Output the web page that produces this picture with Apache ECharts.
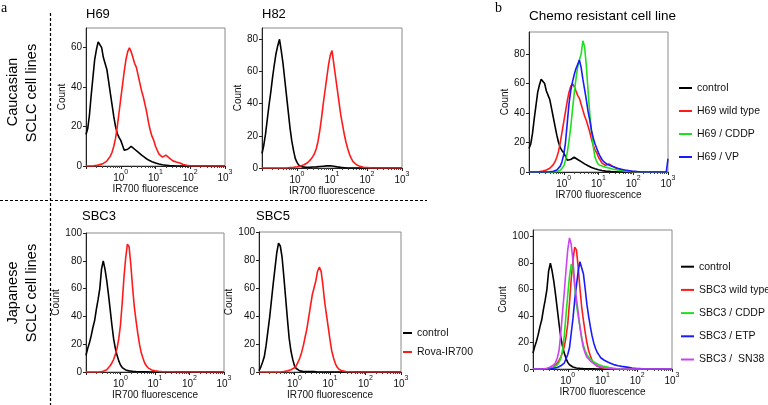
<!DOCTYPE html>
<html>
<head>
<meta charset="utf-8">
<script src="https://cdn.jsdelivr.net/npm/echarts@6/dist/echarts.min.js"></script>
<style>
  html, body { margin: 0; padding: 0; background: #fff; }
  #chart { width: 768px; height: 405px; }
</style>
</head>
<body>
<div id="chart"></div>
<script>
// ---- Data (x grid: log10 fluorescence channel, -1.00 .. 3.00 in 0.05 steps) ----
const LOG_MIN = -1, LOG_STEP = 0.05, N_BINS = 81;
const LOGX = Array.from({ length: N_BINS }, (_, i) => +(LOG_MIN + i * LOG_STEP).toFixed(2));
const X_TICK_EXPONENTS = [0, 1, 2, 3];

// H69 (panel a) – also reused in panel b (control / H69 wild type)
const H69_control = [
  16,19,26,36,45,54,59,63,64,60,55,52,49,43,37,31,25,20,16.5,14.5,
  13,10.5,8,7.5,8.5,9.5,10,9.5,8.5,7.5,7,6,5.5,4.8,4.2,3.6,3,2.6,2.2,1.8,
  1.5,1.2,1,0.8,0.6,0.5,0.4,0.3,0.2,0.2,0.1,0,0,0,0,0,0,0,0,0,
  0,0,0,0,0,0,0,0,0,0,0,0,0,0,0,0,0,0,0,0,
  0];
const H69_rova = [
  0,0,0,0,0,0.2,0.3,0.5,0.7,1,1.3,1.8,2.5,3.5,5,7,10,14,20,27,
  34,41,48,54,58,60,58,55,52,50,46,42,38,35,31,27,22,18,15,13,
  10,8,6,5,4.5,5,5.5,5,4,3.2,2.6,2.2,2,1.8,1.5,1.2,0.8,0.6,0.4,0.2,
  0.1,0,0,0,0,0,0,0,0,0,0,0,0,0,0,0,0,0,0,0,
  0];
// H82
const H82_control = [
  9,14,21,30,39,47,56,64,71,76,80,73,65,55,45,35,25,17,11,6,
  3.5,1.8,1,0.7,0.5,0.5,0.5,0.4,0.5,0.6,0.6,0.7,0.8,0.9,1,1.1,1.2,1.3,1.3,1.4,
  1.3,1.1,0.9,0.7,0.5,0.4,0.3,0.2,0.1,0,0,0,0,0,0,0,0,0,0,0,
  0,0,0,0,0,0,0,0,0,0,0,0,0,0,0,0,0,0,0,0,
  0];
const H82_rova = [
  0,0,0,0,0,0,0,0,0,0,0,0,0,0,0,0.2,0.3,0.4,0.5,0.6,
  0.8,1,1.3,1.6,2,2.6,3.3,4.3,5.5,7,9,12,16.5,23,31,40,48,56,64,70,
  73,65,57,49,41,33,27,21,16,12,8.5,6,4,2.8,2,1.4,1,0.7,0.5,0.4,
  0.3,0.2,0.1,0,0,0,0,0,0,0,0,0,0,0,0,0,0,0,0,0,
  0];
// SBC3 (panel a) – also reused in panel b (control / SBC3 wild type)
const SBC3_control = [
  12,17,21,26,32,37,45,52,60,74,80,74,66,56,45,34,24,17,12,8,
  5,3.2,2.2,1.5,1.1,0.8,0.6,0.5,0.4,0.3,0.3,0.2,0.2,0.2,0.2,0.2,0.2,0,0,0,
  0,0,0,0,0,0,0,0,0,0,0,0,0,0,0,0,0,0,0,0,
  0,0,0,0,0,0,0,0,0,0,0,0,0,0,0,0,0,0,0,0,
  0];
const SBC3_rova = [
  0,0,0,0,0,0,0,0,0,0.3,0.6,1,1.6,2.8,4.5,6.5,9,12.5,17,24,
  34,50,68,82,92,90,77,61,47,37,28,20,14,10,6.5,4.5,3,2,1.5,1.1,
  0.8,0.6,0.5,0.4,0.3,0.2,0.2,0.2,0.2,0.2,0.2,0,0,0,0,0,0,0,0,0,
  0,0,0,0,0,0,0,0,0,0,0,0,0,0,0,0,0,0,0,0,
  0];
// SBC5
const SBC5_control = [
  1,3.5,7,11,19,29,39,51,63,74,85,92,90,82,68,53,38,24,15,9,
  4.5,2.5,1.3,0.8,0.5,0.3,0.3,0.3,0.3,0.3,0.3,0.3,0.3,0,0,0,0,0,0,0,
  0,0,0,0,0,0,0,0,0,0,0,0,0,0,0,0,0,0,0,0,
  0,0,0,0,0,0,0,0,0,0,0,0,0,0,0,0,0,0,0,0,
  0];
const SBC5_rova = [
  0,0,0,0,0,0,0,0,0,0,0,0,0,0,0.3,0.5,0.8,1.2,1.6,2.2,
  3,4.5,7,10,14,19,25,31,39,47,55,60,65,72,75,72,62,50,41,32,
  23,15,10,6,3.5,2,1.2,0.8,0.5,0.3,0.2,0.2,0,0,0,0,0,0,0,0,
  0,0,0,0,0,0,0,0,0,0,0,0,0,0,0,0,0,0,0,0,
  0];
// Panel b – H69 chemo resistant lines
const H69_CDDP = [
  0,0,0,0,0,0,0,0,0,0,0,0,0,0,0,0.2,0.4,0.7,1.2,2,
  4,8,13,21,30,42,53,63,71,76,80,89,85,72,55,39,27,17,10,7,
  5,4.5,4,3.6,3.3,3,2.7,2.3,2,1.8,1.6,1.4,1.2,1,0.9,0.7,0.6,0.5,0.4,0.3,
  0.2,0.1,0,0,0,0,0,0,0,0,0,0,0,0,0,0,0,0,0,0,
  0];
const H69_VP = [
  0,0,0,0,0,0,0,0,0,0,0,0,0.2,0.3,0.5,0.8,1.3,2.2,4,7,
  12,20,33,46,55,61,66,70,73,76,71,63,56,49,41,35,28,23,19,16,
  13,10.5,8.5,7,6,5.2,4.6,4.2,3.8,3.4,3,2.6,2.2,1.9,1.6,1.4,1.2,1,0.8,0.6,
  0.5,0.4,0.3,0.2,0.1,0,0,0,0,0,0,0,0,0,0,0,0,0,0,0,
  9];
// Panel b – SBC3 chemo resistant lines
const SBC3_CDDP = [
  0,0,0,0,0,0,0,0,0,0.2,0.4,0.7,1.2,2,3.2,5,8,14,25,41,
  56,70,79,77,62,49,40,32,24,18,14,11,9,7.5,6.3,5.3,4.5,3.8,3.2,2.7,
  2.3,2,1.7,1.4,1.1,0.9,0.7,0.5,0.4,0.3,0.2,0.1,0,0,0,0,0,0,0,0,
  0,0,0,0,0,0,0,0,0,0,0,0,0,0,0,0,0,0,0,0,
  0];
const SBC3_ETP = [
  0,0,0,0,0,0,0,0,0,0,0,0.3,0.5,0.8,1.2,1.7,2.4,3.3,4.5,6,
  11,16,27,38,52,63,74,81,80,72,61,49,40,32,25,19.5,15.5,12.5,10.5,8.5,
  7.5,6.6,6,5.3,4.7,4.1,3.6,3.1,2.8,2.5,2.2,2,1.8,1.6,1.4,1.2,1,0.8,0.6,0.5,
  0.4,0.3,0.2,0.1,0,0,0,0,0,0,0,0,0,0,0,0,0,0,0,0,
  0];
const SBC3_SN38 = [
  0,0,0,0,0,0,0,0.3,0.6,1,1.5,2.2,3.2,5,8.5,14,27,43,58,75,
  90,99,94,82,65,53,43,32,23,16,12,9,7.5,6,5,4,3.2,2.5,2,1.6,
  1.3,1,0.8,0.6,0.4,0.3,0.2,0.1,0,0,0,0,0,0,0,0,0,0,0,0,
  0,0,0,0,0,0,0,0,0,0,0,0,0,0,0,0,0,0,0,0,
  0];

// ---- Colours / ticks ----
const C_BLACK = '#000000', C_RED = '#ff1a1a', C_GREEN = '#1ee01e', C_BLUE = '#1a1aff', C_MAG = '#cc44ee';
const Y_TICKS_A = [0, 20, 40, 60];
const Y_TICKS_B = [0, 20, 40, 60, 80];
const Y_TICKS_C = [0, 20, 40, 60, 80, 100];

const FONT = '"Liberation Sans", Arial, Helvetica, sans-serif';
const SERIF = '"Liberation Serif", "Times New Roman", serif';

const panels = [
  { left: 86,  top: 28,  width: 139, height: 138, ymax: 70,  yticks: Y_TICKS_A,
    lines: [['control', H69_control, C_BLACK], ['Rova-IR700', H69_rova, C_RED]] },
  { left: 262, top: 28,  width: 140, height: 140, ymax: 87,  yticks: Y_TICKS_B,
    lines: [['control', H82_control, C_BLACK], ['Rova-IR700', H82_rova, C_RED]] },
  { left: 86,  top: 233, width: 138, height: 139, ymax: 100, yticks: Y_TICKS_C,
    lines: [['control', SBC3_control, C_BLACK], ['Rova-IR700', SBC3_rova, C_RED]] },
  { left: 259, top: 232, width: 142, height: 140, ymax: 100, yticks: Y_TICKS_C,
    lines: [['control', SBC5_control, C_BLACK], ['Rova-IR700', SBC5_rova, C_RED]] },
  { left: 529, top: 32,  width: 139, height: 140, ymax: 95,  yticks: Y_TICKS_B,
    lines: [['control', H69_control, C_BLACK], ['H69 wild type', H69_rova, C_RED],
            ['H69 / CDDP', H69_CDDP, C_GREEN], ['H69 / VP', H69_VP, C_BLUE]] },
  { left: 533, top: 230, width: 139, height: 139, ymax: 105, yticks: Y_TICKS_C,
    lines: [['control', SBC3_control, C_BLACK], ['SBC3 wild type', SBC3_rova, C_RED],
            ['SBC3 / CDDP', SBC3_CDDP, C_GREEN], ['SBC3 / ETP', SBC3_ETP, C_BLUE],
            ['SBC3 /  SN38', SBC3_SN38, C_MAG]] }
];

// log minor tick positions (2..9 x 10^n)
const MINOR = [];
for (let n = -1; n < 3; n++) for (let k = 2; k <= 9; k++) MINOR.push(n + Math.log10(k));

const grid = [], xAxis = [], yAxis = [], series = [];
panels.forEach((p, i) => {
  grid.push({ left: p.left, top: p.top, width: p.width, height: p.height,
    show: true, borderColor: '#8a8a8a', borderWidth: 1, backgroundColor: 'transparent', containLabel: false });
  xAxis.push({
    gridIndex: i, type: 'value', min: -1, max: 3, interval: 1, position: 'bottom',
    name: 'IR700 fluorescence', nameLocation: 'middle', nameGap: 18,
    nameTextStyle: { fontSize: 10, color: '#111', fontFamily: FONT },
    axisLine: { show: true, onZero: false, lineStyle: { color: '#222', width: 1 } },
    axisTick: { show: true, length: 3, lineStyle: { color: '#222' } },
    splitLine: { show: false },
    axisLabel: {
      margin: 3, color: '#111', fontFamily: FONT,
      formatter: v => X_TICK_EXPONENTS.indexOf(v) >= 0 ? '{b|10}{s|' + v + '}' : '',
      rich: {
        b: { fontSize: 10, lineHeight: 14, verticalAlign: 'bottom', fontFamily: FONT, color: '#111' },
        s: { fontSize: 7, lineHeight: 8, verticalAlign: 'top', fontFamily: FONT, color: '#111' }
      }
    }
  });
  xAxis.push({
    gridIndex: i, type: 'value', min: -1, max: 3, position: 'bottom',
    axisLine: { show: false }, splitLine: { show: false }, axisLabel: { show: false },
    axisTick: { show: true, length: 2, customValues: MINOR, lineStyle: { color: '#444' } }
  });
  yAxis.push({
    gridIndex: i, type: 'value', min: 0, max: p.ymax,
    name: 'Count', nameLocation: 'middle', nameGap: 18,
    nameTextStyle: { fontSize: 10, color: '#111', fontFamily: FONT },
    axisLine: { show: true, onZero: false, lineStyle: { color: '#222', width: 1 } },
    axisTick: { show: true, length: 3, customValues: p.yticks, lineStyle: { color: '#222' } },
    axisLabel: { fontSize: 10, color: '#111', margin: 4, fontFamily: FONT, customValues: p.yticks },
    splitLine: { show: false }
  });
  p.lines.forEach(([name, arr, color]) => {
    series.push({
      type: 'line', name, xAxisIndex: 2 * i, yAxisIndex: i,
      data: LOGX.map((x, k) => [x, arr[k]]),
      symbol: 'none', showSymbol: false, clip: true, silent: true,
      lineStyle: { color, width: 1.6 }, itemStyle: { color }
    });
  });
});

const legendText = { fontSize: 10.5, color: '#111', fontFamily: FONT, lineHeight: 12 };
const legendBase = { orient: 'vertical', icon: 'rect', itemHeight: 2, padding: 0,
  textStyle: legendText, selectedMode: false };
const legend = [
  Object.assign({}, legendBase, { left: 403, top: 327, itemWidth: 9, itemGap: 7,
    data: ['control', 'Rova-IR700'] }),
  Object.assign({}, legendBase, { left: 679, top: 82, itemWidth: 13, itemGap: 11,
    data: ['control', 'H69 wild type', 'H69 / CDDP', 'H69 / VP'] }),
  Object.assign({}, legendBase, { left: 681, top: 260.7, itemWidth: 13, itemGap: 11.2,
    data: ['control', 'SBC3 wild type', 'SBC3 / CDDP', 'SBC3 / ETP', 'SBC3 /  SN38'] })
];

function txt(text, x, y, font, extra) {
  return Object.assign({ type: 'text', x, y, silent: true,
    style: Object.assign({ text, font, fill: '#000', align: 'left', verticalAlign: 'middle' }, (extra && extra.style) || {}) },
    extra && extra.el || {});
}

const graphic = [
  { type: 'line', silent: true, shape: { x1: 50.5, y1: 13, x2: 50.5, y2: 405 },
    style: { stroke: '#000', lineWidth: 1.2, lineDash: [3, 2] } },
  { type: 'line', silent: true, shape: { x1: 0, y1: 200.5, x2: 427, y2: 200.5 },
    style: { stroke: '#000', lineWidth: 1.2, lineDash: [3, 2] } },
  txt('a', 1, 8.4, '14px ' + SERIF),
  txt('b', 495, 8.4, '14px ' + SERIF),
  txt('H69', 86, 14.5, '13px ' + FONT),
  txt('H82', 262, 14, '13px ' + FONT),
  txt('SBC3', 82, 216.2, '13px ' + FONT),
  txt('SBC5', 256, 216.5, '13px ' + FONT),
  txt('Chemo resistant cell line', 529, 16.3, '13.5px ' + FONT),
  txt('Caucasian', 12.8, 92, '14.5px ' + FONT, { style: { align: 'center' }, el: { rotation: Math.PI / 2 } }),
  txt('SCLC cell lines', 31.6, 93, '14.5px ' + FONT, { style: { align: 'center' }, el: { rotation: Math.PI / 2 } }),
  txt('Japanese', 12.8, 293, '14.5px ' + FONT, { style: { align: 'center' }, el: { rotation: Math.PI / 2 } }),
  txt('SCLC cell lines', 31.6, 293, '14.5px ' + FONT, { style: { align: 'center' }, el: { rotation: Math.PI / 2 } })
];

const chart = echarts.init(document.getElementById('chart'), null, { renderer: 'canvas' });
chart.setOption({
  animation: false,
  backgroundColor: '#ffffff',
  textStyle: { fontFamily: FONT },
  grid, xAxis, yAxis, series, legend, graphic
});
</script>
</body>
</html>
